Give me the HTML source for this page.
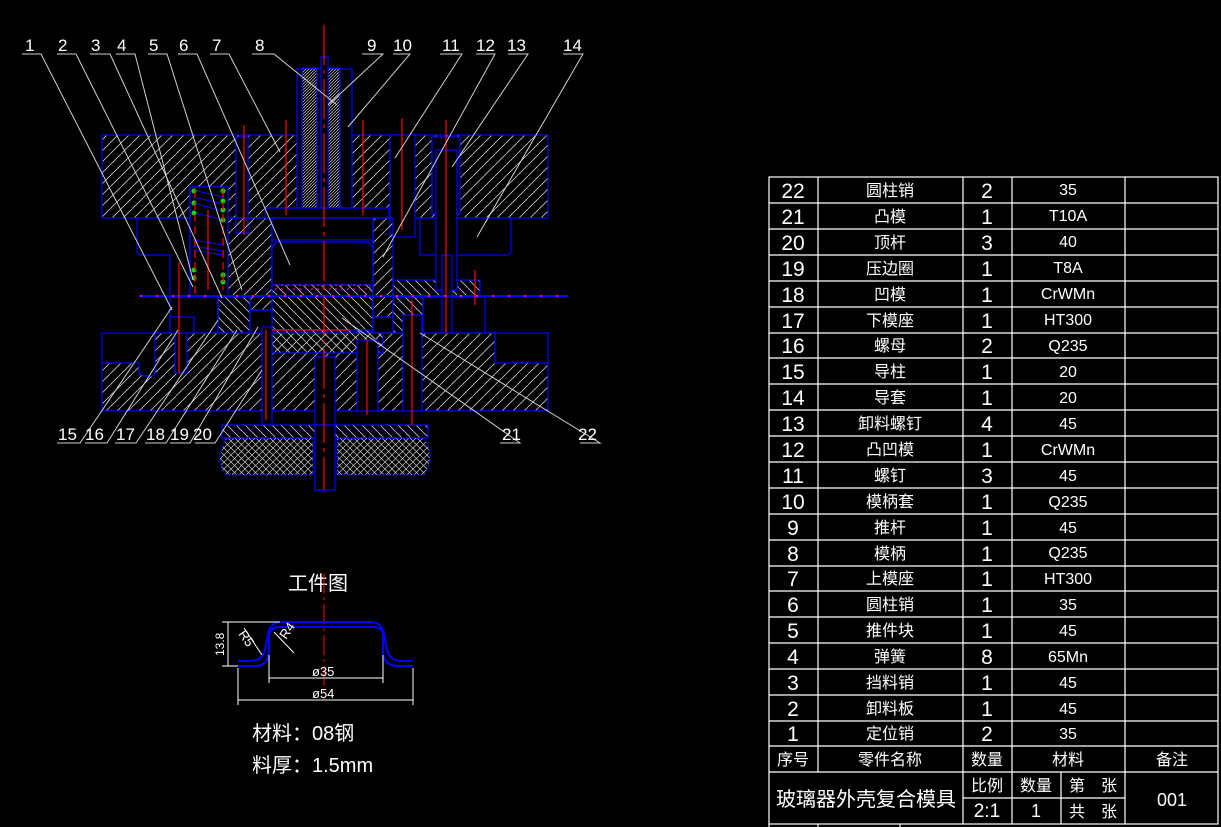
<!DOCTYPE html>
<html><head><meta charset="utf-8"><style>
html,body{margin:0;padding:0;background:#000;}
svg{display:block}
text{font-family:"Liberation Sans","Noto Sans CJK SC",sans-serif;fill:#fff;}
</style></head><body>
<svg width="1221" height="827" viewBox="0 0 1221 827" xmlns="http://www.w3.org/2000/svg">
<defs>
<pattern id="h1" patternUnits="userSpaceOnUse" width="11" height="11"><path d="M-1,12 L12,-1" stroke="#c8c8c8" stroke-width="0.8"/></pattern>
<pattern id="h2" patternUnits="userSpaceOnUse" width="9" height="9"><path d="M-1,-1 L10,10" stroke="#c8c8c8" stroke-width="0.8"/></pattern>
<pattern id="h3" patternUnits="userSpaceOnUse" width="7" height="7"><path d="M-1,8 L8,-1 M-1,-1 L8,8" stroke="#c8c8c8" stroke-width="0.7"/></pattern>
<pattern id="h4" patternUnits="userSpaceOnUse" width="3" height="3"><path d="M-1,4 L4,-1" stroke="#ccc" stroke-width="0.7"/></pattern>
</defs>
<rect width="1221" height="827" fill="#000"/>

<!-- ===== main assembly ===== -->
<g stroke="#0000ff" stroke-width="1.2">
<!-- upper seat -->
<rect x="102" y="135" width="446" height="83" fill="url(#h1)"/>
<!-- lower seat -->
<path d="M155,333 L495,333 L495,363 L548,363 L548,411 L102,411 L102,363 L139,363 L139,373 Q141,376 147,376 L151,376 Q155,376 155,373 Z" fill="url(#h1)"/>
<path d="M102,333 L548,333 L548,363 M102,333 L102,363" fill="none"/>
<!-- voids upper -->
<rect x="297" y="69" width="55" height="149" fill="#000"/>
<rect x="390" y="135" width="25" height="102" fill="#000"/>
<rect x="432" y="137" width="28" height="77" fill="#000"/>
<rect x="190" y="187" width="38" height="110" fill="#000"/>
<rect x="236" y="137" width="12" height="96" fill="#000"/>
<!-- shank parts -->
<rect x="302" y="68" width="15" height="149" fill="url(#h4)"/>
<rect x="328" y="68" width="12" height="149" fill="url(#h4)"/>
<rect x="321" y="57" width="7" height="160" fill="#000"/>
<rect x="265" y="208" width="124" height="10" fill="#000"/>
<!-- lower region blocks -->
<path d="M137,218 L190,218 L190,297 L170,297 L170,255 L142,255 Q137,255 137,250 Z" fill="#000"/>
<path d="M190,218 L272,218 L272,310 L250,310 L250,297 L190,297 Z" fill="url(#h1)"/>
<rect x="190" y="187" width="38" height="110" fill="#000"/>
<rect x="272" y="218" width="101" height="67" fill="#000"/>
<rect x="272" y="240" width="101" height="45" fill="#000"/>
<path d="M272,248 L276,242 L368,242 L373,248" fill="none"/>
<path d="M373,218 L393,218 L393,317 L373,317 Z" fill="url(#h1)"/>
<path d="M420,218 L511,218 L511,250 Q511,255 506,255 L420,255 Z" fill="#000"/>
<rect x="393" y="280" width="87" height="17" fill="url(#h2)"/>
<rect x="272" y="285" width="101" height="45" fill="url(#h2)"/>
<rect x="272" y="330" width="111" height="23" fill="url(#h2)"/>
<rect x="170" y="297" width="48" height="36" fill="#000"/>
<rect x="218" y="297" width="32" height="36" fill="url(#h2)"/>
<rect x="250" y="310" width="22" height="23" fill="#000"/>
<rect x="393" y="297" width="30" height="36" fill="url(#h2)"/>
<rect x="423" y="297" width="62" height="36" fill="#000"/>
<rect x="373" y="317" width="20" height="16" fill="#000"/>
<rect x="436" y="150" width="21" height="140" fill="#000"/>
<rect x="442" y="255" width="10" height="78" fill="#000"/>
<!-- lower voids -->
<rect x="262" y="327" width="10" height="98" fill="#000"/>
<rect x="315" y="357" width="20" height="133" fill="#000"/>
<rect x="357" y="340" width="21" height="71" fill="#000"/>
<rect x="403" y="315" width="19" height="96" fill="#000"/>
<rect x="175" y="325" width="12" height="48" fill="#000"/>
<rect x="170" y="317" width="24" height="16" fill="#000"/>
<!-- bottom plate + rubber -->
<rect x="222" y="425" width="206" height="13" fill="url(#h2)"/>
<path d="M226,438 L313,438 L313,475 L226,475 Q214,462 226,438 Z" fill="url(#h3)" stroke-dasharray="3,2"/>
<path d="M337,438 L424,438 Q436,456 424,475 L337,475 Z" fill="url(#h3)" stroke-dasharray="3,2"/>
<rect x="315" y="425" width="20" height="65" fill="#000"/>
</g>
<!-- spring -->
<g stroke="#0000ff" stroke-width="1">
<path d="M193,190 L223,197 M193,197 L223,204 M193,203 L223,211 M193,213 L223,219 M193,240 L223,245 M193,246 L223,251 M193,250 L223,255"/>
</g>
<g fill="#00dd00">
<circle cx="194" cy="191" r="2.5"/><circle cx="194" cy="203" r="2.5"/><circle cx="194" cy="213" r="2.5"/><circle cx="223" cy="191" r="2.5"/><circle cx="223" cy="201" r="2.5"/><circle cx="223" cy="210" r="2.5"/><circle cx="223" cy="220" r="2.5"/><circle cx="194" cy="270" r="2.5"/><circle cx="194" cy="278" r="2.5"/><circle cx="223" cy="275" r="2.5"/><circle cx="223" cy="282" r="2.5"/>
</g>
<!-- strip -->
<line x1="140" y1="296" x2="568" y2="296" stroke="#0000ff" stroke-width="2"/>
<line x1="140" y1="296" x2="568" y2="296" stroke="#ff00ff" stroke-width="2" stroke-dasharray="2,14"/>
<rect x="275" y="285" width="95" height="4" fill="none" stroke="#ff00ff" stroke-dasharray="2,4"/>
<!-- red centrelines -->
<g stroke="#ff0000" stroke-width="1.2" fill="none">
<path d="M324,25 L324,490" stroke-dasharray="40,5,4,5"/>
<path d="M286,120 L286,215 M363,120 L363,215 M402,118 L402,230 M446,120 L446,333 M208,210 L208,290 M244,125 L244,235 M179,262 L179,373 M475,270 L475,305 M266,330 L266,420 M412,300 L412,425 M367,340 L367,415"/>
<path d="M195,190 L195,295 M223,190 L223,290" stroke-dasharray="8,4"/>
<path d="M272,330 L350,330"/>
</g>
<!-- leaders -->
<g stroke="#d0d0d0" stroke-width="1" fill="none">
<path d="M22,54 L41,54 L172,310"/>
<path d="M57,54 L76,54 L193,287"/>
<path d="M90,54 L110,54 L222,298"/>
<path d="M116,54 L135,54 L193,280"/>
<path d="M148,54 L167,54 L242,290"/>
<path d="M178,54 L197,54 L290,265"/>
<path d="M210,54 L229,54 L280,152"/>
<path d="M252,54 L274,54 L337,105"/>
<path d="M362,54 L383,54 L328,105"/>
<path d="M393,54 L410,54 L348,127"/>
<path d="M440,54 L462,54 L395,158"/>
<path d="M476,54 L495,54 L383,257"/>
<path d="M508,54 L528,54 L452,167"/>
<path d="M563,54 L583,54 L477,237"/>
<path d="M57,443 L80,443 L172,307"/>
<path d="M85,443 L107,443 L178,330"/>
<path d="M115,443 L136,443 L218,320"/>
<path d="M145,443 L166,443 L237,330"/>
<path d="M170,443 L190,443 L258,327"/>
<path d="M195,443 L215,443 L262,370"/>
<path d="M500,443 L520,443 L342,318"/>
<path d="M580,443 L600,443 L420,333"/>
</g>
<g font-size="17">
<text x="25" y="51">1</text><text x="58" y="51">2</text><text x="91" y="51">3</text><text x="117" y="51">4</text><text x="149" y="51">5</text><text x="179" y="51">6</text><text x="212" y="51">7</text><text x="255" y="51">8</text><text x="367" y="51">9</text><text x="393" y="51">10</text><text x="442" y="51">11</text><text x="476" y="51">12</text><text x="507" y="51">13</text><text x="563" y="51">14</text>
<text x="58" y="440">15</text><text x="85" y="440">16</text><text x="116" y="440">17</text><text x="146" y="440">18</text><text x="170" y="440">19</text><text x="193" y="440">20</text><text x="502" y="440">21</text><text x="578" y="440">22</text>
</g>

<!-- ===== workpiece ===== -->
<text x="288" y="590" font-size="20">工件图</text>
<line x1="324" y1="573" x2="324" y2="700" stroke="#ff0000" stroke-dasharray="20,4,3,4"/>
<g stroke="#0000ff" stroke-width="2" fill="none">
<path d="M238,661 L250,661 Q262,661 265,650 L268,634 Q270,622 282,622 L370,622 Q382,622 384,634 L387,650 Q390,661 402,661 L413,661"/>
<path d="M238,666 L255,666 Q268,666 269,652 L269,636 Q270,627 280,627 L373,627 Q383,627 383,636 L383,652 Q384,666 398,666 L413,666"/>
</g>
<g stroke="#fff" stroke-width="1" fill="none">
<path d="M269,655 L269,683 M383,655 L383,683 M238,668 L238,705 M413,668 L413,705 M222,622 L280,622 M222,666 L238,666 M228,622 L228,666"/>
<path d="M269,678 L383,678 M238,700 L413,700"/>
<path d="M244,628 L262,655 M274,632 L294,653"/>
</g>
<text x="312" y="676" font-size="13">ø35</text>
<text x="312" y="698" font-size="13">ø54</text>
<text x="0" y="0" font-size="12" transform="translate(224,656) rotate(-90)">13.8</text>
<text x="0" y="0" font-size="13" transform="translate(238,634) rotate(55)">R5</text>
<text x="0" y="0" font-size="13" transform="translate(286,640) rotate(-55)">R4</text>
<text x="252" y="740" font-size="20">材料：08钢</text>
<text x="252" y="772" font-size="20">料厚：1.5mm</text>

<!-- ===== table ===== -->
<g stroke="#fff" stroke-width="1.2" fill="none">
<rect x="769" y="177" width="449" height="647"/>
<path d="M818,177 L818,772 M963,177 L963,824 M1012,177 L1012,772 M1125,177 L1125,824"/>
<path d="M1012,772 L1012,824 M1061,772 L1061,824 M963,798 L1125,798"/>
<path d="M769,203 H1218 M769,229 H1218 M769,255 H1218 M769,281 H1218 M769,307 H1218 M769,333 H1218 M769,358 H1218 M769,384 H1218 M769,410 H1218 M769,436 H1218 M769,462 H1218 M769,488 H1218 M769,514 H1218 M769,540 H1218 M769,566 H1218 M769,591 H1218 M769,617 H1218 M769,643 H1218 M769,669 H1218 M769,695 H1218 M769,721 H1218 M769,746 H1218 M769,772 H1218"/>
<path d="M769,824 L769,827 M818,824 L818,827 M900,824 L900,827"/>
</g>
<g font-size="21" text-anchor="middle">
<text x="793" y="198">22</text><text x="793" y="224">21</text><text x="793" y="250">20</text><text x="793" y="276">19</text><text x="793" y="302">18</text><text x="793" y="328">17</text><text x="793" y="353">16</text><text x="793" y="379">15</text><text x="793" y="405">14</text><text x="793" y="431">13</text><text x="793" y="457">12</text><text x="793" y="483">11</text><text x="793" y="509">10</text><text x="793" y="535">9</text><text x="793" y="561">8</text><text x="793" y="586">7</text><text x="793" y="612">6</text><text x="793" y="638">5</text><text x="793" y="664">4</text><text x="793" y="690">3</text><text x="793" y="716">2</text><text x="793" y="741">1</text>
<text x="987" y="198">2</text><text x="987" y="224">1</text><text x="987" y="250">3</text><text x="987" y="276">1</text><text x="987" y="302">1</text><text x="987" y="328">1</text><text x="987" y="353">2</text><text x="987" y="379">1</text><text x="987" y="405">1</text><text x="987" y="431">4</text><text x="987" y="457">1</text><text x="987" y="483">3</text><text x="987" y="509">1</text><text x="987" y="535">1</text><text x="987" y="561">1</text><text x="987" y="586">1</text><text x="987" y="612">1</text><text x="987" y="638">1</text><text x="987" y="664">8</text><text x="987" y="690">1</text><text x="987" y="716">1</text><text x="987" y="741">2</text>
</g>
<g font-size="16" text-anchor="middle">
<text x="890" y="196">圆柱销</text><text x="890" y="222">凸模</text><text x="890" y="248">顶杆</text><text x="890" y="274">压边圈</text><text x="890" y="300">凹模</text><text x="890" y="326">下模座</text><text x="890" y="351">螺母</text><text x="890" y="377">导柱</text><text x="890" y="403">导套</text><text x="890" y="429">卸料螺钉</text><text x="890" y="455">凸凹模</text><text x="890" y="481">螺钉</text><text x="890" y="507">模柄套</text><text x="890" y="533">推杆</text><text x="890" y="559">模柄</text><text x="890" y="584">上模座</text><text x="890" y="610">圆柱销</text><text x="890" y="636">推件块</text><text x="890" y="662">弹簧</text><text x="890" y="688">挡料销</text><text x="890" y="714">卸料板</text><text x="890" y="739">定位销</text>
<text x="1068" y="195">35</text><text x="1068" y="221">T10A</text><text x="1068" y="247">40</text><text x="1068" y="273">T8A</text><text x="1068" y="299">CrWMn</text><text x="1068" y="325">HT300</text><text x="1068" y="351">Q235</text><text x="1068" y="377">20</text><text x="1068" y="403">20</text><text x="1068" y="429">45</text><text x="1068" y="455">CrWMn</text><text x="1068" y="481">45</text><text x="1068" y="507">Q235</text><text x="1068" y="533">45</text><text x="1068" y="558">Q235</text><text x="1068" y="584">HT300</text><text x="1068" y="610">35</text><text x="1068" y="636">45</text><text x="1068" y="662">65Mn</text><text x="1068" y="688">45</text><text x="1068" y="714">45</text><text x="1068" y="739">35</text>
<text x="793" y="765">序号</text><text x="890" y="765">零件名称</text><text x="987" y="765">数量</text><text x="1068" y="765">材料</text><text x="1172" y="765">备注</text>
<text x="987" y="791">比例</text><text x="1036" y="791">数量</text><text x="1093" y="791">第　张</text>
<text x="987" y="817" font-size="19">2:1</text><text x="1036" y="817" font-size="18">1</text><text x="1093" y="817">共　张</text>
<text x="1172" y="806" font-size="18">001</text>
</g>
<text x="866" y="806" font-size="20" text-anchor="middle">玻璃器外壳复合模具</text>
</svg>
</body></html>
